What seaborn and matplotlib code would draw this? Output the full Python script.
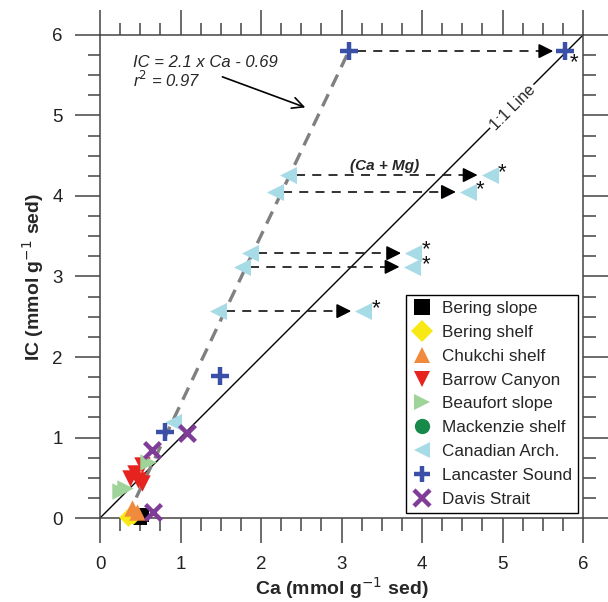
import matplotlib
matplotlib.use("Agg")
import matplotlib.pyplot as plt
from matplotlib.lines import Line2D
from matplotlib.ticker import MultipleLocator
import seaborn as sns
import pandas as pd

# ---------------- data ----------------
bering_slope_ca = [0.52, 0.50]
bering_slope_ic = [0.04, 0.00]
bering_shelf_ca = [0.35, 0.41]
bering_shelf_ic = [0.01, 0.04]
chukchi_ca = [0.40, 0.46]
chukchi_ic = [0.12, 0.07]
barrow_ca = [0.52, 0.43, 0.37, 0.47, 0.52]
barrow_ic = [0.66, 0.56, 0.50, 0.47, 0.43]
beaufort_ca = [0.60, 0.25, 0.31]
beaufort_ic = [0.69, 0.33, 0.37]
mackenzie_ca = []
mackenzie_ic = []
canadian_ca = [2.34, 2.17, 1.86, 1.76, 1.47, 0.91]
canadian_ic = [4.26, 4.05, 3.29, 3.12, 2.57, 1.19]
lancaster_ca = [3.09, 1.49, 0.81]
lancaster_ic = [5.80, 1.76, 1.07]
davis_ca = [1.08, 0.65, 0.66]
davis_ic = [1.05, 0.85, 0.07]

# Ca + Mg shifted points (Canadian Arch. and Lancaster Sound)
shift_from_ca = [2.34, 2.17, 1.86, 1.76, 1.47]
shift_to_ca = [4.84, 4.57, 3.89, 3.87, 3.27]
shift_ic = [4.26, 4.05, 3.29, 3.12, 2.57]
lanc_shift_from = 3.09
lanc_shift_to = 5.78
lanc_shift_ic = 5.80

reg_slope = 2.1
reg_intercept = -0.69
reg_ca = [0.45, 3.10]

groups = ["Bering slope", "Bering shelf", "Chukchi shelf", "Barrow Canyon",
          "Beaufort slope", "Mackenzie shelf", "Canadian Arch.",
          "Lancaster Sound", "Davis Strait"]
group_ca = [bering_slope_ca, bering_shelf_ca, chukchi_ca, barrow_ca, beaufort_ca,
            mackenzie_ca, canadian_ca, lancaster_ca, davis_ca]
group_ic = [bering_slope_ic, bering_shelf_ic, chukchi_ic, barrow_ic, beaufort_ic,
            mackenzie_ic, canadian_ic, lancaster_ic, davis_ic]
colors = ["#000000", "#f7e816", "#f08a3c", "#e6231f", "#9ed49a",
          "#17894a", "#a7dbe6", "#3a4fa6", "#7f3d98"]
markers = ["s", "D", "^", "v", ">", "o", "<", "+", "x"]

# ---------------- plot ----------------
sns.set_style("ticks")
plt.rcParams["font.family"] = ["Liberation Sans", "DejaVu Sans"]

fig = plt.figure(figsize=(6.08, 6.02), dpi=100)
ax = fig.add_axes([0.1645, 0.1395, 0.7945, 0.8024])

# lines
ax.plot([0, 6], [0, 6], color="black", lw=1.0, zorder=1)
reg_ic = [reg_slope * c + reg_intercept for c in reg_ca]
ax.plot(reg_ca, reg_ic, color="#808080", lw=2.4, ls=(0, (4, 2.5)), zorder=2)

sizes = [110, 90, 140, 140, 140, 120, 150, 160, 130]
handles = []
for name, xs, ys, c, m, s in zip(groups, group_ca, group_ic, colors, markers, sizes):
    unfilled = m in ("+", "x")
    if xs:
        df = pd.DataFrame({"Ca": xs, "IC": ys})
        sns.scatterplot(data=df, x="Ca", y="IC", ax=ax, color=c, marker=m, s=s,
                        linewidth=3.2 if unfilled else 0, zorder=4,
                        clip_on=False, legend=False)
    handles.append(Line2D([], [], ls="none", marker=m, color=c, markersize=11,
                          markeredgewidth=3.2 if unfilled else 0))

# shifted points with arrows
shift_df = pd.DataFrame({"Ca": shift_to_ca, "IC": shift_ic})
sns.scatterplot(data=shift_df, x="Ca", y="IC", ax=ax, color=colors[6], marker="<",
                s=150, linewidth=0, zorder=4, legend=False)
lanc_df = pd.DataFrame({"Ca": [lanc_shift_to], "IC": [lanc_shift_ic]})
sns.scatterplot(data=lanc_df, x="Ca", y="IC", ax=ax, color=colors[7], marker="+",
                s=160, linewidth=3.2, zorder=4, legend=False)

def shift_arrow(x0, x1, y):
    ax.plot([x0 + 0.10, x1 - 0.30], [y, y], color="#222222", lw=1.3,
            ls=(0, (5, 4)), zorder=3)
    ax.annotate("", xy=(x1 - 0.15, y), xytext=(x1 - 0.32, y),
                arrowprops=dict(arrowstyle="-|>", color="black", lw=1.2,
                                mutation_scale=22, shrinkA=0, shrinkB=0), zorder=3)

for x0, x1, y in zip(shift_from_ca, shift_to_ca, shift_ic):
    shift_arrow(x0, x1, y)
shift_arrow(lanc_shift_from, lanc_shift_to, lanc_shift_ic)

# asterisks marking the Ca + Mg points (the close pair share one text)
ast_kw = dict(fontsize=16, ha="left", va="center", color="#111111")
ax.text(shift_to_ca[0] + 0.1, shift_ic[0] + 0.03, "*", **ast_kw)
ax.text(shift_to_ca[1] + 0.1, shift_ic[1] + 0.03, "*", **ast_kw)
ax.text(shift_to_ca[2] + 0.1, (shift_ic[2] + shift_ic[3]) / 2 + 0.03, "*\n*",
        linespacing=0.62, **ast_kw)
ax.text(shift_to_ca[4] + 0.1, shift_ic[4] + 0.03, "*", **ast_kw)
ax.text(lanc_shift_to + 0.05, lanc_shift_ic - 0.14, "*", **ast_kw)

# annotations
ax.text(0.41, 5.66, "IC = 2.1 x Ca - 0.69", fontsize=12, style="italic",
        ha="left", va="center")
ax.text(0.41, 5.44, "r$^2$ = 0.97", fontsize=12, style="italic",
        ha="left", va="center")
ax.annotate("", xy=(2.55, 5.10), xytext=(1.52, 5.48),
            arrowprops=dict(arrowstyle="->", color="black", lw=1.2,
                            mutation_scale=20, shrinkA=0, shrinkB=0))
ax.text(3.54, 4.37, "(Ca + Mg)", fontsize=11, style="italic", weight="bold",
        ha="center", va="center")
ax.text(5.13, 5.10, "1:1 Line", fontsize=11.5, rotation=45, ha="center",
        va="center", rotation_mode="anchor",
        bbox=dict(facecolor="white", edgecolor="none", pad=1.5), zorder=2)

# axes
ax.set_xlim(0, 6)
ax.set_ylim(0, 6)
ax.xaxis.set_major_locator(MultipleLocator(1))
ax.yaxis.set_major_locator(MultipleLocator(1))
ax.xaxis.set_minor_locator(MultipleLocator(0.25))
ax.yaxis.set_minor_locator(MultipleLocator(0.25))
ax.tick_params(which="both", direction="out", top=True, right=True,
               colors="#444444", width=1.1, labelcolor="#222222")
ax.tick_params(which="major", length=18, labelsize=13.5, pad=9)
ax.tick_params(which="minor", length=9)
for sp in ax.spines.values():
    sp.set_color("#444444")
    sp.set_linewidth(1.1)
    sp.set_visible(True)

ax.set_xlabel("Ca (mmol g$^{-1}$ sed)", fontsize=14, weight="bold", labelpad=2)
ax.set_ylabel("IC (mmol g$^{-1}$ sed)", fontsize=14, weight="bold", labelpad=4)

leg = ax.legend(handles, groups, loc="lower right", fontsize=12.3, frameon=True,
                fancybox=False, edgecolor="black", framealpha=1,
                borderaxespad=0.3, labelspacing=0.52, handletextpad=0.55,
                handlelength=1.2, borderpad=0.35)
leg.get_frame().set_linewidth(1.0)
leg.set_zorder(5)

fig.savefig("out.png", dpi=100)
